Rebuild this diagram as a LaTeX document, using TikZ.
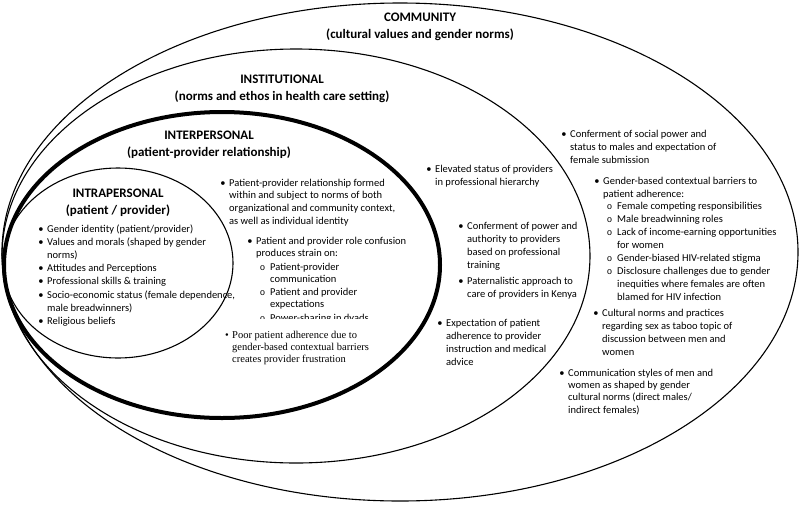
\documentclass[tikz,border=0pt]{standalone}
\usepackage{fontspec}
\setmainfont{Carlito}
\newfontfamily\timesf{Liberation Serif}
\newfontfamily\monof{Liberation Mono}
\newcommand\mybul{\llap{\textbullet\hspace{3.5pt}}}
\newcommand\mysub{\llap{{\monof\fontsize{9}{9}\selectfont o}\hspace{5pt}}}
\tikzset{
  ring/.style={draw=black, line width=1.1pt},
  ttl/.style={font=\fontsize{13}{17}\selectfont\bfseries, align=center, anchor=base, inner sep=0pt},
  body/.style={font=\fontsize{10.5}{#1}\selectfont, align=left, anchor=base west, inner sep=0pt},
  body/.default=13,
  serifbody/.style={font=\timesf\fontsize{10.5}{12.2}\selectfont, align=left, anchor=base west, inner sep=0pt}
}
\begin{document}
\begin{tikzpicture}[x=1pt,y=-1pt]
\useasboundingbox (0,0) rectangle (800,504);
% rings
\draw[ring] (400,252) ellipse [x radius=398pt, y radius=249pt];
\draw[ring] (296,256) ellipse [x radius=294pt, y radius=207pt];
\draw[draw=black, line width=4pt] (222,265) ellipse [x radius=218pt, y radius=153pt];
\draw[ring] (118,263) ellipse [x radius=115pt, y radius=95pt];
% titles (anchor = baseline of last line)
\node[ttl] (tcom) at (420,38) {COMMUNITY\\(cultural values and gender norms)};
\node[ttl] (tins) at (282,100) {INSTITUTIONAL\\(norms and ethos in health care setting)};
\node[ttl] (tint) at (209,156) {INTERPERSONAL\\(patient-provider relationship)};
\node[ttl] (tintra) at (118,214) {INTRAPERSONAL\\(patient / provider)};
% intrapersonal
\node[body=13.2] (intra) at (47,324.4) {\mybul Gender identity (patient/provider)\\
\mybul Values and morals (shaped by gender\\norms)\\
\mybul Attitudes and Perceptions\\
\mybul Professional skills \& training\\
\mybul Socio-economic status (female dependence,\\male breadwinners)\\
\mybul Religious beliefs};
% interpersonal
\node[body=12.7] (ip1) at (229,224.1) {\mybul Patient-provider relationship formed\\within and subject to norms of both\\organizational and community context,\\as well as individual identity};
\node[body=12.7] (ip2) at (256,256.7) {\mybul Patient and provider role confusion\\produces strain on:};
\node[body=12.6] (ip3) at (270,307.8) {\mysub Patient-provider\\communication\\\mysub Patient and provider\\expectations};
\begin{scope}
\clip (250,300) rectangle (440,318);
\node[body] (ip4) at (270,321) {\mysub Power-sharing in dyads};
\end{scope}
\node[serifbody] (ip5) at (232,362.4) {\mybul Poor patient adherence due to\\gender-based contextual barriers\\creates provider frustration};
% institutional
\node[body=13.4] (in1) at (435,185.4) {\mybul Elevated status of providers\\in professional hierarchy};
\node[body=13.3] (in2) at (467,268.9) {\mybul Conferment of power and\\authority to providers\\based on professional\\training};
\node[body=13.3] (in3) at (467,297.3) {\mybul Paternalistic approach to\\care of providers in Kenya};
\node[body=13] (in4) at (446,365) {\mybul Expectation of patient\\adherence to provider\\instruction and medical\\advice};
% community
\node[body=13] (c1) at (570,163) {\mybul Conferment of social power and\\status to males and expectation of\\female submission};
\node[body=13] (c2) at (603,197) {\mybul Gender-based contextual barriers to\\patient adherence:};
\node[body=12.86] (c3) at (617,300) {\mysub Female competing responsibilities\\
\mysub Male breadwinning roles\\
\mysub Lack of income-earning opportunities\\for women\\
\mysub Gender-biased HIV-related stigma\\
\mysub Disclosure challenges due to gender\\inequities where females are often\\blamed for HIV infection};
\node[body=13] (c4) at (602,355) {\mybul Cultural norms and practices\\regarding sex as taboo topic of\\discussion between men and\\women};
\node[body=12.4] (c5) at (568,413.2) {\mybul Communication styles of men and\\women as shaped by gender\\cultural norms (direct males/\\indirect females)};
\end{tikzpicture}
\end{document}
